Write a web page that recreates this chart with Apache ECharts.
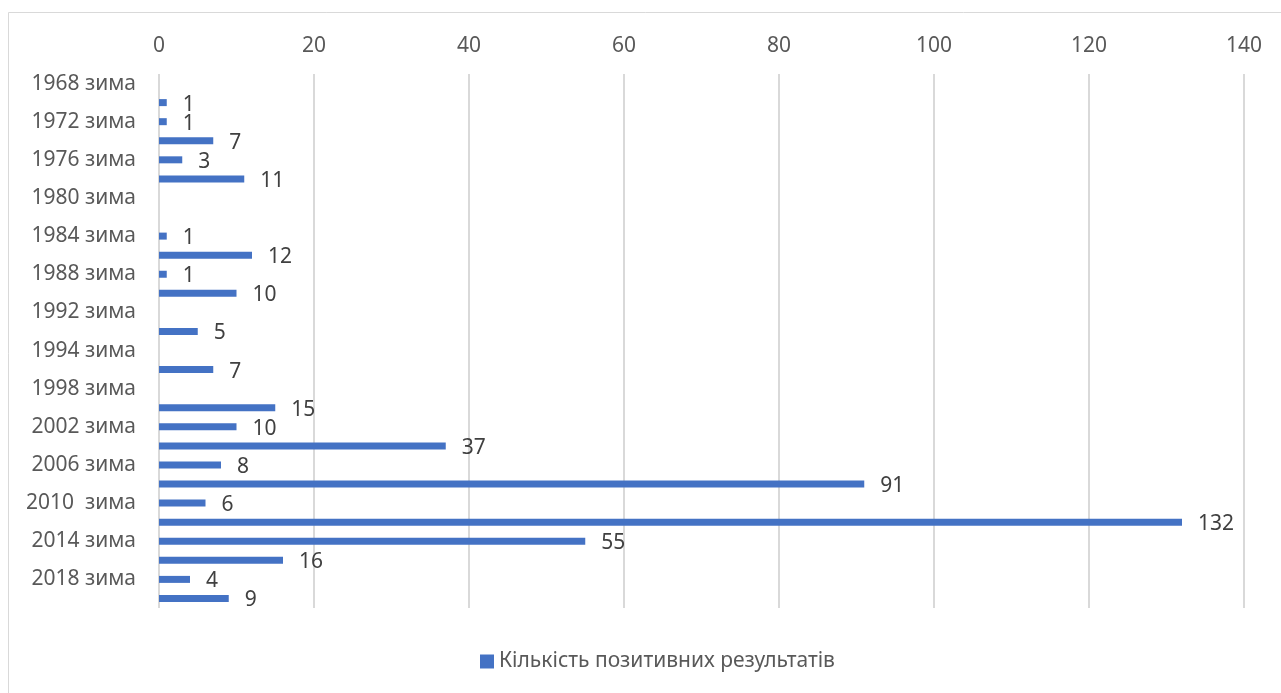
<!DOCTYPE html>
<html>
<head>
<meta charset="utf-8">
<script src="https://cdn.jsdelivr.net/npm/echarts@6/dist/echarts.min.js"></script>
<style>html,body{margin:0;padding:0;background:#fff}#c{width:1281px;height:693px}</style>
</head>
<body>
<div id="c"></div>
<script>
const categories = ["1968 зима","1968 літо","1972 зима","1972 літо","1976 зима","1976 літо","1980 зима","1980 літо","1984 зима","1984 літо","1988 зима","1988 літо","1992 зима","1992 літо","1994 зима","1996 літо","1998 зима","2000 літо","2002 зима","2004 літо","2006 зима","2008 літо","2010  зима","2012 літо","2014 зима","2016 літо","2018 зима","2020 літо"];
const values = [null,1,1,7,3,11,null,null,1,12,1,10,null,5,null,7,null,15,10,37,8,91,6,132,55,16,4,9];
const seriesName = "Кількість позитивних результатів";
const xTicks = {min:0, max:140, interval:20};

const chart = echarts.init(document.getElementById('c'), null, {renderer:'canvas'});
const FONT = "'Noto Sans', sans-serif";
chart.setOption({
  animation:false,
  backgroundColor:'#fff',
  graphic:[{type:'rect', shape:{x:8.5,y:12.5,width:1290,height:700}, style:{fill:'none', stroke:'#d9d9d9', lineWidth:1}}],
  grid:{left:159, right:37, top:74, bottom:85, containLabel:false},
  legend:{bottom:16, left:475, itemWidth:14, itemHeight:14, itemGap:6,
    textStyle:{fontFamily:FONT, fontSize:21, color:'#595959'}, icon:'rect', data:[seriesName]},
  xAxis:{type:'value', position:'top', min:xTicks.min, max:xTicks.max, interval:xTicks.interval,
    axisLine:{show:false}, axisTick:{show:false},
    axisLabel:{fontFamily:FONT, fontSize:21, color:'#595959', margin:17},
    splitLine:{lineStyle:{color:'#d9d9d9', width:2}}},
  yAxis:{type:'category', inverse:true, data:categories,
    axisLine:{show:false}, axisTick:{show:false},
    axisLabel:{interval:1, fontFamily:FONT, fontSize:21, color:'#595959', margin:23}},
  series:[{name:seriesName, type:'bar', data:values, barWidth:7,
    itemStyle:{color:'#4472C4'},
    label:{show:true, position:'right', distance:16, fontFamily:FONT, fontSize:21, color:'#404040', offset:[0,2]}}]
});
</script>
</body>
</html>
